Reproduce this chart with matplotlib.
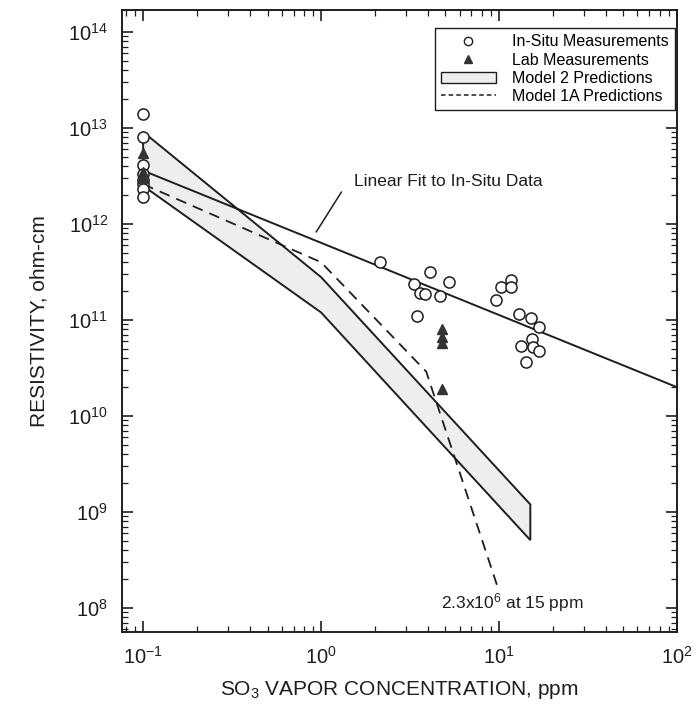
import numpy as np
import matplotlib
matplotlib.use('Agg')
import matplotlib.pyplot as plt
from matplotlib.lines import Line2D
from matplotlib.patches import Patch
from matplotlib import ticker

plt.rcParams['font.family'] = ['Liberation Sans', 'DejaVu Sans']
plt.rcParams['mathtext.fontset'] = 'custom'
plt.rcParams['mathtext.rm'] = 'Liberation Sans'
plt.rcParams['mathtext.default'] = 'regular'

# data
insitu_x = [0.1, 0.1, 0.1, 0.1, 0.1, 0.1, 0.1, 0.1,
            2.13, 4.07, 3.35, 3.58, 3.82, 5.22, 4.64, 3.48,
            10.3, 11.7, 11.7, 9.6, 13.0, 15.2, 16.8, 15.3, 13.3, 15.6, 16.8, 14.2]
insitu_y = [1.4e13, 8e12, 4.1e12, 3.3e12, 2.9e12, 2.6e12, 2.3e12, 1.9e12,
            4.0e11, 3.2e11, 2.4e11, 1.9e11, 1.87e11, 2.5e11, 1.8e11, 1.1e11,
            2.2e11, 2.6e11, 2.2e11, 1.6e11, 1.15e11, 1.04e11, 8.5e10, 6.3e10, 5.4e10, 5.2e10, 4.8e10, 3.7e10]
lab_x = [0.1, 0.1, 0.1, 0.1, 4.8, 4.8, 4.8, 4.8]
lab_y = [5.5e12, 3.5e12, 3.2e12, 3.0e12, 8.0e10, 6.6e10, 5.7e10, 1.9e10]

fit_x = [0.1, 100]
fit_y = [3.6e12, 2.0e10]

m2_upper_x = [0.1, 1.0, 15]
m2_upper_y = [9.1e12, 2.8e11, 1.2e9]
m2_lower_x = [0.1, 1.0, 15]
m2_lower_y = [2.5e12, 1.2e11, 5.1e8]

m1a_x = [0.1, 1.0, 3.9, 10.0]
m1a_y = [2.6e12, 4.0e11, 2.9e10, 1.5e8]

# leader line for the fit label
lead_x = [1.30, 0.94]
lead_y = [2.15e12, 8.3e11]

xticks = [0.1, 1, 10, 100]
yticks = [1e8, 1e9, 1e10, 1e11, 1e12, 1e13, 1e14]

fig = plt.figure(figsize=(6.95, 7.11), dpi=100)
ax = fig.add_axes([0.1755, 0.111, 0.7985, 0.875])
ax.set_xscale('log')
ax.set_yscale('log')
ax.set_xlim(10 ** -1.119, 10 ** 2.0)
ax.set_ylim(10 ** 7.75, 10 ** 14.23)

k = '#1e1e1e'
# model 2 band
bx = m2_upper_x + m2_lower_x[::-1]
by = m2_upper_y + m2_lower_y[::-1]
ax.fill(bx, by, facecolor='#eeeeee', edgecolor=k, lw=1.4, zorder=1)
ax.plot(m1a_x, m1a_y, color=k, lw=1.3, ls=(0, (6, 4)), zorder=2)
ax.plot(fit_x, fit_y, color=k, lw=1.4, zorder=2)
ax.plot(lead_x, lead_y, color=k, lw=1.1, zorder=2)

ax.plot(insitu_x, insitu_y, 'o', ms=8, mfc='white', mec=k, mew=1.1, ls='none', zorder=3)
ax.plot(lab_x, lab_y, '^', ms=7, mfc='#333333', mec='#333333', ls='none', zorder=4)

ax.text(1.53, 2.75e12, 'Linear Fit to In-Situ Data', fontsize=12.5, color=k, ha='left', va='center')
ax.text(11.8, 1.15e8, r'2.3x10$^6$ at 15 ppm', fontsize=12.5, color=k, ha='center', va='center')

ax.xaxis.set_major_locator(ticker.FixedLocator(xticks))
ax.yaxis.set_major_locator(ticker.FixedLocator(yticks))
ax.xaxis.set_major_formatter(ticker.LogFormatterSciNotation())
ax.yaxis.set_major_formatter(ticker.LogFormatterSciNotation())
ax.xaxis.set_minor_locator(ticker.LogLocator(base=10, subs=np.arange(2, 10)))
ax.yaxis.set_minor_locator(ticker.LogLocator(base=10, subs=np.arange(2, 10), numticks=20))
ax.xaxis.set_minor_formatter(ticker.NullFormatter())
ax.yaxis.set_minor_formatter(ticker.NullFormatter())
ax.tick_params(which='both', direction='in', top=True, right=True, labelsize=14.5, colors=k)
ax.tick_params(which='major', length=8, width=1.2, pad=10)
ax.tick_params(which='minor', length=4, width=0.9)
for s in ax.spines.values():
    s.set_linewidth(1.4)
    s.set_color(k)

ax.set_xlabel(r'SO$_3$ VAPOR CONCENTRATION, ppm', fontsize=15, color=k, labelpad=8)
ax.set_ylabel('RESISTIVITY, ohm-cm', fontsize=15, color=k, labelpad=14)

handles = [Line2D([], [], marker='o', ls='none', ms=6, mfc='white', mec=k),
           Line2D([], [], marker='^', ls='none', ms=6, mfc='#333333', mec='#333333'),
           Patch(facecolor='#eeeeee', edgecolor=k),
           Line2D([], [], color=k, ls=(0, (3, 2)), lw=1.1)]
labels = ['In-Situ Measurements', 'Lab Measurements', 'Model 2 Predictions', 'Model 1A Predictions']
leg = ax.legend(handles, labels, loc='upper right', bbox_to_anchor=(0.996, 0.971), borderaxespad=0,
                fontsize=11.5, fancybox=False, edgecolor=k, framealpha=1, handlelength=3.4,
                handletextpad=1.0, labelspacing=0.2, borderpad=0.4)
leg.get_frame().set_linewidth(1.0)

fig.savefig('out.png', dpi=100)
